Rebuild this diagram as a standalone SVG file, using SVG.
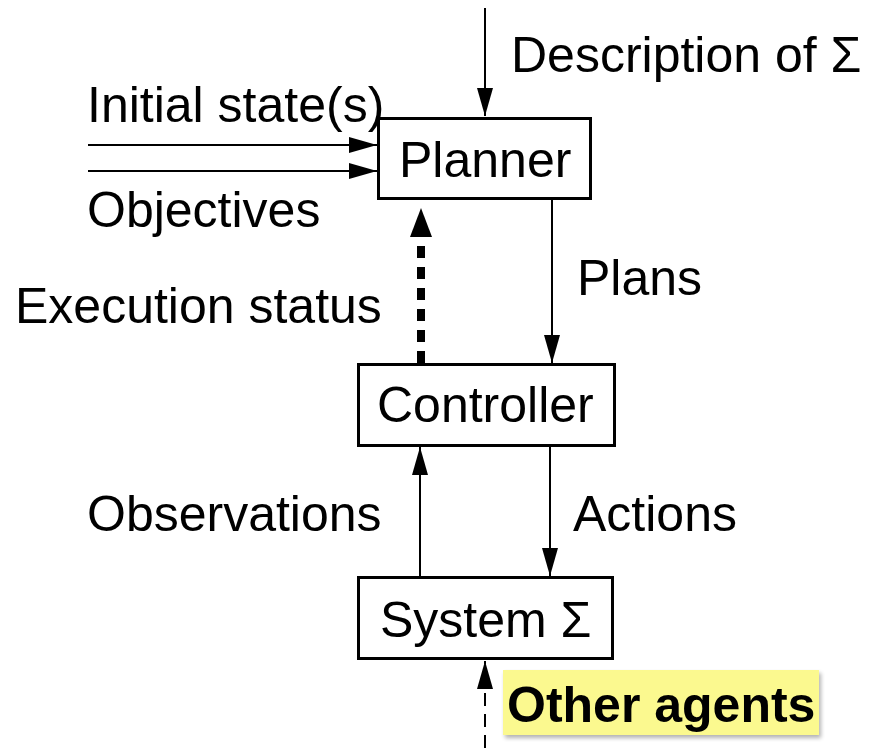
<svg xmlns="http://www.w3.org/2000/svg" width="869" height="748" viewBox="0 0 869 748">
<defs>
<style>
.box{fill:#fff;stroke:#000;stroke-width:3}
.lbl{font-family:"Liberation Sans",Arial,Helvetica,sans-serif;font-size:50px;fill:#000}
.bold{font-weight:bold}
.ln{fill:none;stroke:#000;stroke-width:2}
.thick{fill:none;stroke:#000;stroke-width:8;stroke-dasharray:12 9}
.dash{fill:none;stroke:#000;stroke-width:2;stroke-dasharray:13 8}
</style>
<marker id="ah" markerUnits="userSpaceOnUse" markerWidth="28" markerHeight="16" refX="28" refY="8" orient="auto" overflow="visible">
<path d="M0,0 L28,8 L0,16 z" fill="#000"/>
</marker>
<marker id="ahb" markerUnits="userSpaceOnUse" markerWidth="29" markerHeight="22" refX="0" refY="11" orient="auto" overflow="visible">
<path d="M0,0 L29,11 L0,22 z" fill="#000"/>
</marker>
<filter id="sh" x="-10%" y="-20%" width="130%" height="160%">
<feGaussianBlur stdDeviation="2"/>
</filter>
</defs>
<rect width="869" height="748" fill="#fff"/>

<g id="connectors">
<path class="ln" d="M485,8 L485,116" marker-end="url(#ah)"/>
<path class="ln" d="M88,145 L377,145" marker-end="url(#ah)"/>
<path class="ln" d="M88,171 L377,171" marker-end="url(#ah)"/>
<path class="ln" d="M552,200 L552,363" marker-end="url(#ah)"/>
<path class="thick" d="M421,363 L421,237" marker-end="url(#ahb)"/>
<path class="ln" d="M550,447 L550,576" marker-end="url(#ah)"/>
<path class="ln" d="M420,576 L420,447" marker-end="url(#ah)"/>
<path class="dash" d="M485,748 L485,661" marker-end="url(#ah)"/>
</g>

<g id="planner">
<rect class="box" x="378.5" y="118.5" width="212" height="80"/>
<text class="lbl" x="399" y="177">Planner</text>
</g>
<g id="controller">
<rect class="box" x="358.5" y="364.5" width="256" height="81"/>
<text class="lbl" x="377" y="422">Controller</text>
</g>
<g id="system">
<rect class="box" x="358.5" y="577.5" width="254" height="81"/>
<text class="lbl" x="380" y="637">System Σ</text>
</g>

<g id="labels">
<text class="lbl" x="511" y="72">Description of Σ</text>
<text class="lbl" x="87" y="122">Initial state(s)</text>
<text class="lbl" x="87" y="227">Objectives</text>
<text class="lbl" x="577" y="295">Plans</text>
<text class="lbl" x="15" y="323">Execution status</text>
<text class="lbl" x="87" y="531">Observations</text>
<text class="lbl" x="573" y="531">Actions</text>
</g>

<g id="other-agents">
<rect x="505" y="673" width="316" height="65" fill="#000" opacity="0.3" filter="url(#sh)"/>
<rect x="503" y="670" width="316" height="65" fill="#fbf98f"/>
<text class="lbl bold" x="507" y="722">Other agents</text>
</g>
</svg>
